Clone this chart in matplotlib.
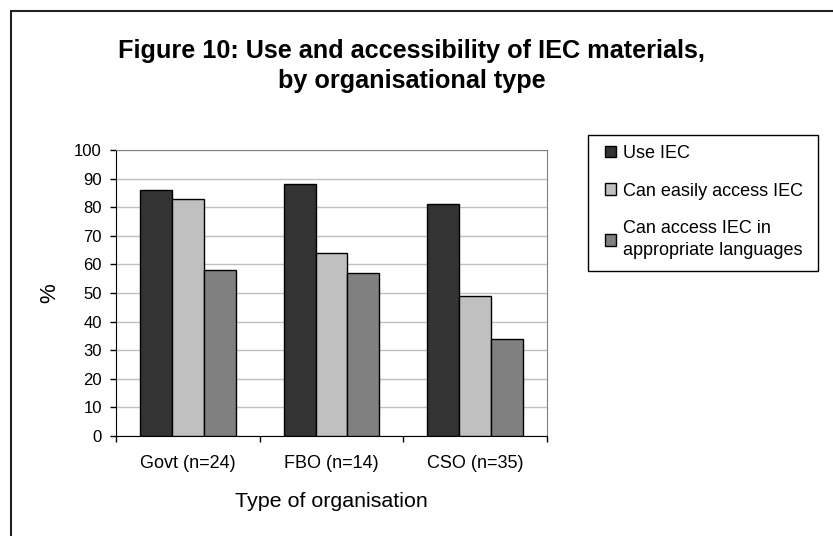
import numpy as np
import matplotlib.pyplot as plt
from matplotlib.patches import Rectangle

#data
categories = ["Govt (n=24)", "FBO (n=14)", "CSO (n=35)"]
use_iec = [86, 88, 81]
easy_access = [83, 64, 49]
language_access = [58, 57, 34]
series_names = ["Use IEC", "Can easily access IEC", "Can access IEC in\nappropriate languages"]
series_colors = ["#333333", "#c0c0c0", "#808080"]

plt.rcParams['font.family'] = ['Liberation Sans', 'DejaVu Sans']

fig = plt.figure(figsize=(8.33, 5.36), dpi=100)
W, H = 833, 536

#axes placed in pixel terms
left, right, top, bottom = 116, 547, 150, 436
ax = fig.add_axes([left / W, 1 - bottom / H, (right - left) / W, (bottom - top) / H])

x = np.arange(len(categories))
w = 0.2227
all_series = [use_iec, easy_access, language_access]
for i in range(3):
    ax.bar(x + (i - 1) * w, all_series[i], width=w, color=series_colors[i],
           edgecolor="black", linewidth=1.0, zorder=3, label=series_names[i])

ax.set_xlim(-0.5, 2.5)
ax.set_ylim(0, 100)
ax.set_yticks(np.arange(0, 101, 10))
ax.yaxis.grid(True, color="#c0c0c0", linewidth=1.0, zorder=0)
ax.set_axisbelow(True)

#spines
ax.spines["top"].set_color("#808080")
ax.spines["right"].set_color("#808080")
ax.spines["left"].set_color("black")
ax.spines["bottom"].set_color("black")

ax.tick_params(axis="y", direction="out", length=4.3, width=1, pad=5.8, labelsize=12)
ax.set_xticks(x)
ax.set_xticklabels(categories)
ax.set_xticks(np.arange(-0.5, 2.6, 1), minor=True)
ax.tick_params(axis="x", which="major", length=0, pad=14, labelsize=13)
ax.tick_params(axis="x", which="minor", direction="out", length=4.3, width=1)

ax.set_ylabel("%", fontsize=16)
ax.yaxis.set_label_coords(-0.13, 0.5)
ax.set_xlabel("Type of organisation", fontsize=15.4)
ax.xaxis.set_label_coords(0.5, -0.195)

#title
fig.text(412 / W, 1 - 39 / H, "Figure 10: Use and accessibility of IEC materials,\nby organisational type",
         ha="center", va="top", fontsize=18.2, fontweight="bold", linespacing=1.3)

#legend (frame drawn separately so the side padding can be wider)
leg = fig.legend(loc="upper left", bbox_to_anchor=(594 / W, 1 - 134 / H), borderaxespad=0,
                 fontsize=13, frameon=False,
                 handlelength=0.6, handleheight=0.6, handletextpad=0.4,
                 labelspacing=1.15, borderpad=0.6)
for t in leg.get_texts():
    t.set_linespacing(1.35)
fig.patches.append(Rectangle((588 / W, 1 - 271 / H), 230 / W, 136 / H, fill=False,
                             edgecolor="black", linewidth=1.0, transform=fig.transFigure))

#outer border (only top and left visible)
fig.patches.append(Rectangle((11 / W, -0.1), 1.2, 1.1 - 11 / H, fill=False,
                             edgecolor="#222222", linewidth=1.5, transform=fig.transFigure))

fig.savefig("out.png", dpi=100)
